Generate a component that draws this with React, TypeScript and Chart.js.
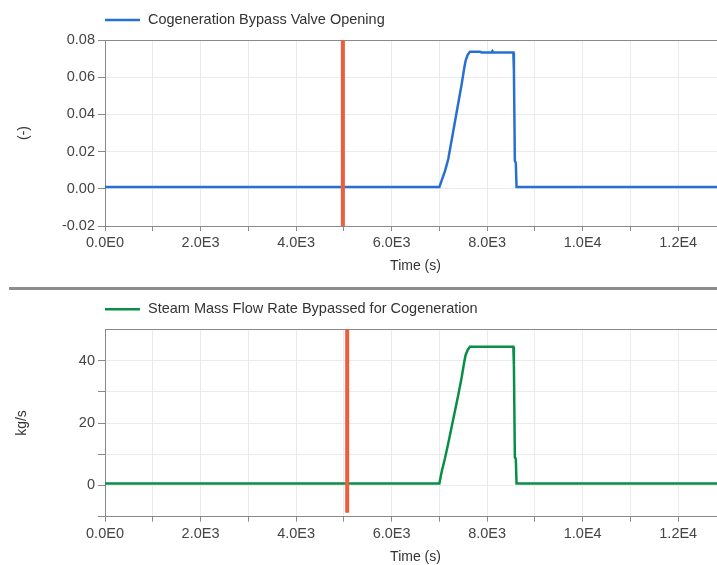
import React, { useEffect, useRef } from "react";
import { Chart, registerables } from "chart.js";

Chart.register(...registerables);

// ---------- data ----------
const valveTime = [0, 7000, 7048, 7117, 7186, 7395, 7465, 7521, 7550, 7592, 7640, 7849, 7884, 8093, 8110, 8128, 8548, 8560, 8580, 8600, 8615, 13000];
const valveOpening = [0.001, 0.001, 0.0045, 0.0095, 0.016, 0.046, 0.056, 0.065, 0.069, 0.072, 0.0737, 0.0737, 0.0733, 0.0733, 0.074, 0.0733, 0.0733, 0.064, 0.015, 0.014, 0.001, 0.001];

const steamTime = [0, 7000, 7048, 7117, 7186, 7395, 7465, 7521, 7550, 7592, 7640, 8548, 8560, 8580, 8600, 8615, 13000];
const steamFlow = [0.6, 0.6, 4.4, 8.7, 13.5, 29, 34.5, 39.6, 41.8, 43.4, 44.4, 44.4, 38.6, 9, 8.5, 0.6, 0.6];

const valveMarkerTime = [4980, 4980];
const valveMarkerValue = [-0.05, 0.1];
const steamMarkerTime = [5070, 5070];
const steamMarkerValue = [-8.7, 60];

const xMin = 0;
const xMax = 13000;
const xStep = 1000;
const xLabelEvery = 2000;
const xLabelLast = 12000;

const valveYMin = -0.02;
const valveYMax = 0.08;
const valveYStep = 0.02;

const steamYMin = -10;
const steamYMax = 50;
const steamYStep = 10;
const steamYLabelEvery = 20;

const valveLabel = "Cogeneration Bypass Valve Opening";
const steamLabel = "Steam Mass Flow Rate Bypassed for Cogeneration";
const xTitle = "Time (s)";
const valveYTitle = "(-)";
const steamYTitle = "kg/s";

// ---------- styles ----------
const FONT = '"Liberation Sans", Arial, sans-serif';
const BLUE = "rgb(40,112,208)";
const GREEN = "rgb(8,142,72)";
const RED = "rgb(236,94,60)";
const AXIS = "#8a8a8a";
const GRID = "#ebebeb";
const TICK_TEXT = "#444";
const TEXT = "#333";

Chart.defaults.font.family = FONT;

const legendLine = {
  id: "legendLine",
  afterDraw(chart: any, _args: any, opts: any) {
    const ds = chart.data.datasets.find((d: any) => d.label);
    if (!ds) return;
    const { ctx, chartArea } = chart;
    const y = chartArea.top - opts.offset;
    ctx.save();
    ctx.strokeStyle = ds.borderColor;
    ctx.lineWidth = 2.5;
    ctx.beginPath();
    ctx.moveTo(chartArea.left, y);
    ctx.lineTo(chartArea.left + 35, y);
    ctx.stroke();
    ctx.fillStyle = TEXT;
    ctx.font = `14.5px ${FONT}`;
    ctx.textBaseline = "middle";
    ctx.textAlign = "left";
    ctx.fillText(ds.label, chartArea.left + 43, y);
    ctx.restore();
  },
};

function fmtX(v: number) {
  if (v % xLabelEvery !== 0 || v > xLabelLast) return "";
  return Number(v).toExponential(1).replace("e+", "E").replace("e-", "E-");
}

type PanelProps = {
  times: number[];
  values: number[];
  markerT: number[];
  markerV: number[];
  label: string;
  color: string;
  yTitle: string;
  yMin: number;
  yMax: number;
  yStep: number;
  yFmt: (v: number) => string;
  hideTopTick: boolean;
  width: number;
  height: number;
  padTop: number;
  xHeight: number;
  xTitlePadBottom: number;
  xTitleLineHeight: number;
  yTitlePadTop: number;
};

function Panel(p: PanelProps) {
  const ref = useRef<HTMLCanvasElement | null>(null);
  useEffect(() => {
    if (!ref.current) return;
    const isTop = (c: any) => c.tick && Math.abs(c.tick.value - p.yMax) < 1e-9;
    const chart = new Chart(ref.current, {
      type: "line",
      data: {
        datasets: [
          {
            data: p.markerT.map((t, i) => ({ x: t, y: p.markerV[i] })),
            borderColor: RED,
            borderWidth: 4,
            pointRadius: 0,
            fill: false,
            clip: 0,
            order: 0,
          } as any,
          {
            label: p.label,
            data: p.times.map((t, i) => ({ x: t, y: p.values[i] })),
            borderColor: p.color,
            backgroundColor: p.color,
            borderWidth: 2.5,
            pointRadius: 0,
            tension: 0,
            fill: false,
            order: 1,
          },
        ],
      },
      options: {
        responsive: false,
        animation: false,
        events: [],
        layout: { padding: { top: p.padTop, right: 14, bottom: 0, left: 0 } },
        plugins: {
          legend: { display: false },
          tooltip: { enabled: false },
          legendLine: { offset: 20 },
        } as any,
        scales: {
          x: {
            type: "linear",
            min: xMin,
            max: xMax,
            afterFit(scale: any) {
              scale.height = p.xHeight;
            },
            ticks: {
              stepSize: xStep,
              autoSkip: false,
              maxRotation: 0,
              padding: 3.5,
              color: TICK_TEXT,
              font: { size: 14.5 },
              callback: (v: any) => fmtX(Number(v)),
            },
            grid: { color: GRID, tickColor: AXIS, tickLength: 5, lineWidth: 1 },
            border: { color: AXIS, width: 1 },
            title: {
              display: true,
              text: xTitle,
              color: TEXT,
              font: { size: 14, lineHeight: p.xTitleLineHeight },
              padding: { top: 0, bottom: p.xTitlePadBottom },
            },
          },
          y: {
            type: "linear",
            min: p.yMin,
            max: p.yMax,
            afterFit(scale: any) {
              scale.width = 105;
            },
            ticks: {
              stepSize: p.yStep,
              padding: 3,
              color: TICK_TEXT,
              font: { size: 14.5 },
              callback: (v: any) => p.yFmt(Number(v)),
            },
            grid: {
              color: (c: any) => (isTop(c) ? AXIS : GRID),
              tickColor: (c: any) => (isTop(c) && p.hideTopTick ? "rgba(0,0,0,0)" : AXIS),
              tickLength: 7,
              lineWidth: 1,
            },
            border: { color: AXIS, width: 1 },
            title: {
              display: true,
              text: p.yTitle,
              color: TEXT,
              font: { size: 14 },
              padding: { top: p.yTitlePadTop, bottom: 0 },
            },
          },
        },
      },
      plugins: [legendLine as any],
    });
    return () => chart.destroy();
  }, []);
  return <canvas ref={ref} width={p.width} height={p.height} style={{ display: "block" }} />;
}

export default function App() {
  return (
    <div
      style={{
        position: "absolute",
        left: 0,
        top: 0,
        width: 717,
        height: 565,
        overflow: "hidden",
        background: "#fff",
      }}
    >
      <div style={{ position: "absolute", left: 0, top: 0 }}>
        <Panel
          times={valveTime}
          values={valveOpening}
          markerT={valveMarkerTime}
          markerV={valveMarkerValue}
          label={valveLabel}
          color={BLUE}
          yTitle={valveYTitle}
          yMin={valveYMin}
          yMax={valveYMax}
          yStep={valveYStep}
          yFmt={(v) => v.toFixed(2)}
          hideTopTick={false}
          width={740}
          height={287}
          padTop={40}
          xHeight={61}
          xTitlePadBottom={12.6}
          xTitleLineHeight={1.2}
          yTitlePadTop={15.6}
        />
      </div>
      <div
        style={{
          position: "absolute",
          left: 9,
          top: 287,
          width: 740,
          height: 3,
          background: "#8c8c8c",
        }}
      />
      <div style={{ position: "absolute", left: 0, top: 290 }}>
        <Panel
          times={steamTime}
          values={steamFlow}
          markerT={steamMarkerTime}
          markerV={steamMarkerValue}
          label={steamLabel}
          color={GREEN}
          yTitle={steamYTitle}
          yMin={steamYMin}
          yMax={steamYMax}
          yStep={steamYStep}
          yFmt={(v) => {
            const r = Math.round(v);
            return r >= 0 && r % steamYLabelEvery === 0 ? String(r) : "";
          }}
          hideTopTick={true}
          width={740}
          height={275}
          padTop={39.3}
          xHeight={48.3}
          xTitlePadBottom={0}
          xTitleLineHeight={1.1}
          yTitlePadTop={14}
        />
      </div>
    </div>
  );
}
